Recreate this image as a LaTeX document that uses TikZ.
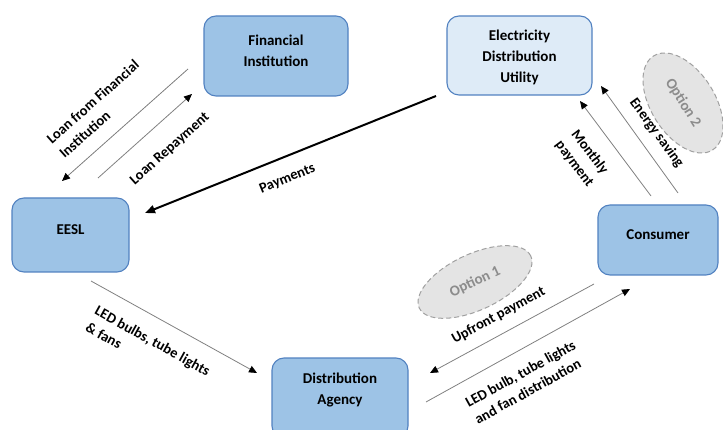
\documentclass[tikz,border=0pt]{standalone}
\usepackage{fontspec}
\setmainfont{Carlito}
\usetikzlibrary{arrows.meta,shapes.geometric}
\definecolor{boxfill}{HTML}{9DC3E6}
\definecolor{boxline}{HTML}{5181C0}
\definecolor{lightfill}{HTML}{DEEBF7}
\definecolor{ovalfill}{HTML}{E4E4E4}
\definecolor{ovalline}{HTML}{A0A0A0}
\definecolor{ovaltext}{HTML}{8C8C8C}
\definecolor{arrline}{HTML}{808080}
\begin{document}
\begin{tikzpicture}[x=1pt,y=-1pt,
  box/.style={draw=boxline, line width=1.1pt, fill=boxfill, rounded corners=12pt, inner sep=0pt},
  boxtext/.style={font=\fontsize{15}{21}\selectfont\bfseries, align=center, inner sep=0pt},
  lbl/.style={font=\fontsize{14.5}{19}\selectfont\bfseries, inner sep=0pt},
  thin arrow/.style={draw=arrline, line width=0.8pt, -{Triangle[length=8pt,width=7pt,color=black]}},
  oval/.style={ellipse, draw=ovalline, dashed, dash pattern=on 5pt off 3pt, line width=1pt, fill=ovalfill, inner sep=0pt,
    font=\fontsize{15}{18}\selectfont\bfseries, text=ovaltext}
]
\useasboundingbox (0,0) rectangle (723,430);
\clip (0,0) rectangle (723,430);

% boxes
\node[box, minimum width=144pt, minimum height=80pt] (fi) at (276,56) {};
\node[boxtext] (fit) at (276,50.5) {Financial\\Institution};
\node[box, fill=lightfill, minimum width=145pt, minimum height=79pt] (edu) at (519.5,55.5) {};
\node[boxtext] (edut) at (519.5,57) {Electricity\\Distribution\\Utility};
\node[box, minimum width=117pt, minimum height=74pt] (eesl) at (70.5,235) {};
\node[boxtext] (eeslt) at (70.5,230) {EESL};
\node[box, minimum width=120pt, minimum height=70pt] (cons) at (658,240) {};
\node[boxtext] (const) at (658,235) {Consumer};
\node[box, minimum width=136pt, minimum height=80pt] (da) at (340,398) {};
\node[boxtext] (dat) at (340,389.5) {Distribution\\Agency};

% ovals
\node[oval, minimum width=123pt, minimum height=56pt, rotate=25] (opt1) at (475,282) {Option 1};
\node[oval, minimum width=111pt, minimum height=64pt, rotate=-58] (opt2) at (683,103) {Option 2};

% connector end points
\coordinate (a1s) at (188,69);  \coordinate (a1e) at (62,181);
\coordinate (a2s) at (98,178);  \coordinate (a2e) at (192,94);
\coordinate (a3s) at (436,96);  \coordinate (a3e) at (145,213);
\coordinate (a4s) at (91,281);  \coordinate (a4e) at (257,373);
\coordinate (a5s) at (594,284); \coordinate (a5e) at (430,373);
\coordinate (a6s) at (426,402); \coordinate (a6e) at (630,289);
\coordinate (a7s) at (651,196); \coordinate (a7e) at (580,101);
\coordinate (a8s) at (678,193); \coordinate (a8e) at (601,86);

\draw[thin arrow] (a1s) -- (a1e);
\draw[thin arrow] (a2s) -- (a2e);
\draw[line width=2pt, -{Triangle[length=10pt,width=8pt]}] (a3s) -- (a3e);
\draw[thin arrow] (a4s) -- (a4e);
\draw[thin arrow] (a5s) -- (a5e);
\draw[thin arrow] (a6s) -- (a6e);
\draw[thin arrow] (a7s) -- (a7e);
\draw[thin arrow] (a8s) -- (a8e);

% labels
\node[lbl, align=left, rotate=41.6] (l1) at (99,109) {Loan from Financial\\Institution};
\node[lbl, rotate=41.6] (l2) at (170,149) {Loan Repayment};
\node[lbl, rotate=22] (l3) at (287.5,179) {Payments};
\node[lbl, align=left, rotate=-29] (l4) at (148,349) {LED bulbs, tube lights\\\& fans};
\node[lbl, rotate=28.5] (l5) at (498.5,315.5) {Upfront payment};
\node[lbl, align=left, rotate=29] (l6) at (525,382) {LED bulb, tube lights\\and fan distribution};
\node[lbl, align=center, rotate=-53] (l7) at (582,158) {Monthly\\payment};
\node[lbl, rotate=-54] (l8) at (656.5,133) {Energy saving};
\end{tikzpicture}
\end{document}
